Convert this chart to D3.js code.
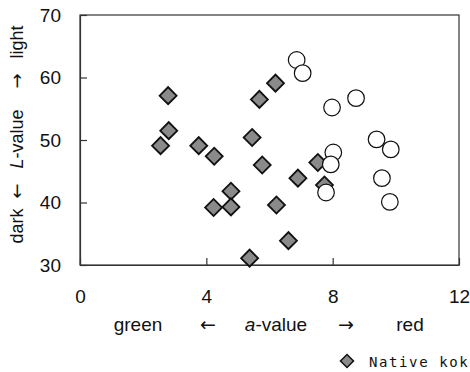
<!DOCTYPE html>
<html>
<head>
<meta charset="utf-8">
<script src="https://cdn.jsdelivr.net/npm/d3@7"></script>
<style>
    body { margin: 0; background: #fff; }
    svg text { font-family: "Liberation Sans", Arial, sans-serif; fill: #111; }
    svg text.arrow { font-family: "DejaVu Sans", sans-serif; }
    .axis path, .axis line { stroke: #333; stroke-width: 1.2; }
    .axis text { font-size: 19px; }
    .legend text { font-family: "DejaVu Sans Mono", monospace; font-size: 14px; letter-spacing: 1.6px; }
</style>
</head>
<body>
<script>
    //native samples (diamonds): a-value and L-value
    var nativeA = [2.79, 2.81, 2.55, 3.76, 4.25, 5.45, 5.68, 6.19, 5.77, 4.78, 4.78, 4.23, 6.22, 6.90, 6.60, 5.37, 7.53, 7.74];
    var nativeL = [57.1, 51.5, 49.1, 49.1, 47.4, 50.4, 56.5, 59.1, 46.0, 41.8, 39.3, 39.2, 39.6, 43.9, 33.9, 31.1, 46.4, 42.8];

    //second series (open circles)
    var otherA = [6.86, 7.05, 7.98, 8.74, 8.02, 7.94, 7.79, 9.39, 9.84, 9.56, 9.81];
    var otherL = [62.8, 60.7, 55.2, 56.7, 48.0, 46.1, 41.6, 50.1, 48.5, 43.9, 40.1];

    //axis ticks
    var xTicks = [0, 4, 8, 12];
    var yTicks = [30, 40, 50, 60, 70];
    var legendLabel = "Native kok";

    var width = 470, height = 372;

    var svg = d3.select("body")
        .append("svg")
        .attr("width", width)
        .attr("height", height);

    var x = d3.scaleLinear().domain([0, 12]).range([80, 459]);
    var y = d3.scaleLinear().domain([30, 70]).range([265, 15]);

    //plot frame
    svg.append("rect")
        .attr("x", x(0))
        .attr("y", y(70))
        .attr("width", x(12) - x(0))
        .attr("height", y(30) - y(70))
        .attr("fill", "none")
        .attr("stroke", "#333")
        .attr("stroke-width", 1.2);

    //axes with inward ticks
    var xAxis = d3.axisBottom(x)
        .tickValues(xTicks)
        .tickSize(-7)
        .tickSizeOuter(0)
        .tickPadding(25);
    svg.append("g")
        .attr("class", "axis")
        .attr("transform", "translate(0," + y(30) + ")")
        .call(xAxis);

    var yAxis = d3.axisLeft(y)
        .tickValues(yTicks)
        .tickSize(-7)
        .tickSizeOuter(0)
        .tickPadding(19);
    svg.append("g")
        .attr("class", "axis")
        .attr("transform", "translate(" + x(0) + ",0)")
        .call(yAxis);

    svg.selectAll(".axis text").attr("font-family", null).style("fill", "#111");

    //x axis title pieces
    var xt = svg.append("g").style("font-size", "19px");
    [{t: "green", c: 138}, {t: "\u2190", c: 208, arrow: true}, {t: "\u2192", c: 346, arrow: true}, {t: "red", c: 410}].forEach(function(d) {
        xt.append("text")
            .attr("class", d.arrow ? "arrow" : null)
            .attr("x", d.c)
            .attr("y", 331)
            .attr("text-anchor", "middle")
            .text(d.t);
    });
    var av = xt.append("text")
        .attr("x", 276)
        .attr("y", 331)
        .attr("text-anchor", "middle");
    av.append("tspan").style("font-style", "italic").text("a");
    av.append("tspan").text("-value");

    //y axis title pieces (rotated)
    var yt = svg.append("g")
        .style("font-size", "18px")
        .attr("transform", "translate(23,0) rotate(-90)");
    [{t: "dark", c: 226}, {t: "\u2190", c: 191, arrow: true}, {t: "\u2192", c: 81, arrow: true}, {t: "light", c: 42}].forEach(function(d) {
        yt.append("text")
            .attr("class", d.arrow ? "arrow" : null)
            .attr("x", -d.c)
            .attr("y", 0)
            .attr("text-anchor", "middle")
            .text(d.t);
    });
    var lv = yt.append("text")
        .attr("x", -139)
        .attr("y", 0)
        .attr("text-anchor", "middle");
    lv.append("tspan").style("font-style", "italic").text("L");
    lv.append("tspan").text("-value");

    //diamonds
    var diamond = d3.symbol().type(d3.symbolSquare).size(144);
    svg.selectAll(".native")
        .data(nativeA)
        .enter()
        .append("path")
        .attr("class", "native")
        .attr("d", diamond)
        .attr("transform", function(d, i) {
            return "translate(" + x(d) + "," + y(nativeL[i]) + ") rotate(45)";
        })
        .attr("fill", "#8a8a8a")
        .attr("stroke", "#111")
        .attr("stroke-width", 1.8);

    //circles
    svg.selectAll(".other")
        .data(otherA)
        .enter()
        .append("circle")
        .attr("class", "other")
        .attr("cx", function(d) { return x(d); })
        .attr("cy", function(d, i) { return y(otherL[i]); })
        .attr("r", 8.3)
        .attr("fill", "#fff")
        .attr("stroke", "#111")
        .attr("stroke-width", 1.2);

    //legend
    var legend = svg.append("g").attr("class", "legend");
    legend.append("path")
        .attr("d", d3.symbol().type(d3.symbolSquare).size(85))
        .attr("transform", "translate(347,361) rotate(45)")
        .attr("fill", "#8a8a8a")
        .attr("stroke", "#111")
        .attr("stroke-width", 1.5);
    legend.append("text")
        .attr("x", 369)
        .attr("y", 367)
        .text(legendLabel);
</script>
</body>
</html>
